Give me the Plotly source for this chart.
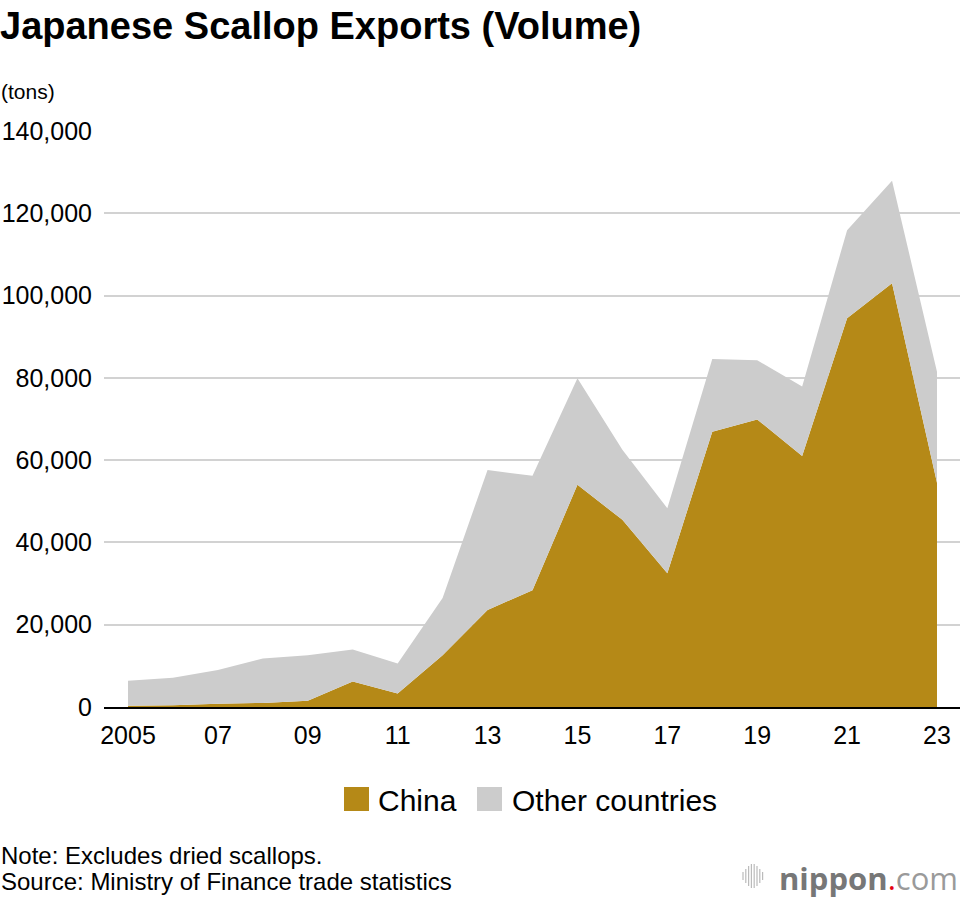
import plotly.graph_objects as go

# ---------------- data ----------------
years = list(range(2005, 2024))
china = [300, 400, 800, 1000, 1500, 6200, 3300, 12600, 23600, 28400, 54000,
         45500, 32500, 66900, 69900, 61000, 94500, 103000, 54500]
totals = [6400, 7100, 9000, 11800, 12600, 14000, 10600, 26500, 57600, 56200, 79900,
          62500, 48300, 84600, 84300, 77900, 115900, 127900, 81500]
other = [t - c for t, c in zip(totals, china)]

x_tickvals = [2005, 2007, 2009, 2011, 2013, 2015, 2017, 2019, 2021, 2023]
x_ticktext = ["2005", "07", "09", "11", "13", "15", "17", "19", "21", "23"]
y_tickvals = [0, 20000, 40000, 60000, 80000, 100000, 120000, 140000]

series_names = ["China", "Other countries"]
series_colors = ["#B58917", "#CCCCCC"]

# ---------------- layout geometry ----------------
W, H = 960, 900
L, R, T, B = 104, 0, 131, 193
PW, PH = W - L - R, H - T - B

def pxx(xp):
    return (xp - L) / PW

def pxy(yp):
    return (H - B - yp) / PH

FONT = "Liberation Sans, Arial, Helvetica, sans-serif"

fig = go.Figure()
for name, vals, col in zip(series_names, [china, other], series_colors):
    fig.add_trace(go.Scatter(
        x=years, y=vals, name=name, stackgroup="one", mode="none",
        fillcolor=col, line=dict(width=0), showlegend=False,
        hovertemplate="%{x}: %{y:,} tons<extra>" + name + "</extra>",
    ))

fig.update_layout(
    width=W, height=H,
    margin=dict(l=L, r=R, t=T, b=B, pad=0),
    paper_bgcolor="white", plot_bgcolor="white",
    font=dict(family=FONT, color="#111111"),
    title=dict(text="<b>Japanese Scallop Exports (Volume)</b>",
               font=dict(size=38, family=FONT, color="#000000"),
               xref="container", x=0.0, xanchor="left",
               yref="container", y=1 - 26 / H, yanchor="middle"),
    xaxis=dict(range=[2004.466, 2023.512], tickvals=x_tickvals, ticktext=x_ticktext,
               showgrid=False, zeroline=False, showline=True, linecolor="#000000",
               linewidth=2, ticks="", ticklabelstandoff=5,
               tickfont=dict(size=25, family=FONT, color="#000000")),
    yaxis=dict(range=[0, 140000], tickvals=y_tickvals, tickformat=",",
               showgrid=True, gridcolor="#D2D2D2", gridwidth=1.5,
               zeroline=False, showline=False, ticks="", ticklabelstandoff=11,
               tickfont=dict(size=25, family=FONT, color="#000000")),
    showlegend=False,
)

ann = []
ann.append(dict(text="(tons)", x=pxx(-1), y=pxy(91), xref="paper", yref="paper",
                xanchor="left", yanchor="middle", showarrow=False,
                font=dict(size=21, family=FONT, color="#000000")))
ann.append(dict(text="Note: Excludes dried scallops.", x=pxx(-1), y=pxy(855),
                xref="paper", yref="paper", xanchor="left", yanchor="middle",
                showarrow=False, font=dict(size=24, family=FONT, color="#000000")))
ann.append(dict(text="Source: Ministry of Finance trade statistics", x=pxx(-1), y=pxy(881),
                xref="paper", yref="paper", xanchor="left", yanchor="middle",
                showarrow=False, font=dict(size=24, family=FONT, color="#000000")))

# manual legend
shapes = []
leg = [(344, 376), (477, 510)]
for (sx, tx), name, col in zip(leg, series_names, series_colors):
    shapes.append(dict(type="rect", xref="paper", yref="paper",
                       x0=pxx(sx), x1=pxx(sx + 25), y0=pxy(811), y1=pxy(787),
                       fillcolor=col, line=dict(width=0)))
    ann.append(dict(text=name, x=pxx(tx), y=pxy(800), xref="paper", yref="paper",
                    xanchor="left", yanchor="middle", showarrow=False,
                    font=dict(size=30, family=FONT, color="#000000")))

# nippon.com logo
ann.append(dict(text="<b>nippon</b><span style='color:#E60012'>.</span><span style='color:#9a9a9a'>com</span>",
                x=pxx(960), y=pxy(878), xref="paper", yref="paper",
                xanchor="right", yanchor="middle", showarrow=False,
                font=dict(size=31, family="Open Sans, " + FONT, color="#777777")))
bar_h = [8, 14, 20, 24, 24, 20, 14, 8]
for i, h in enumerate(bar_h):
    xp = 743 + i * 2.8
    shapes.append(dict(type="line", xref="paper", yref="paper",
                       x0=pxx(xp), x1=pxx(xp), y0=pxy(876 - h / 2), y1=pxy(876 + h / 2),
                       line=dict(color="#BBBBBB", width=1.2)))

fig.update_layout(annotations=ann, shapes=shapes)
fig.write_html("out.html")
